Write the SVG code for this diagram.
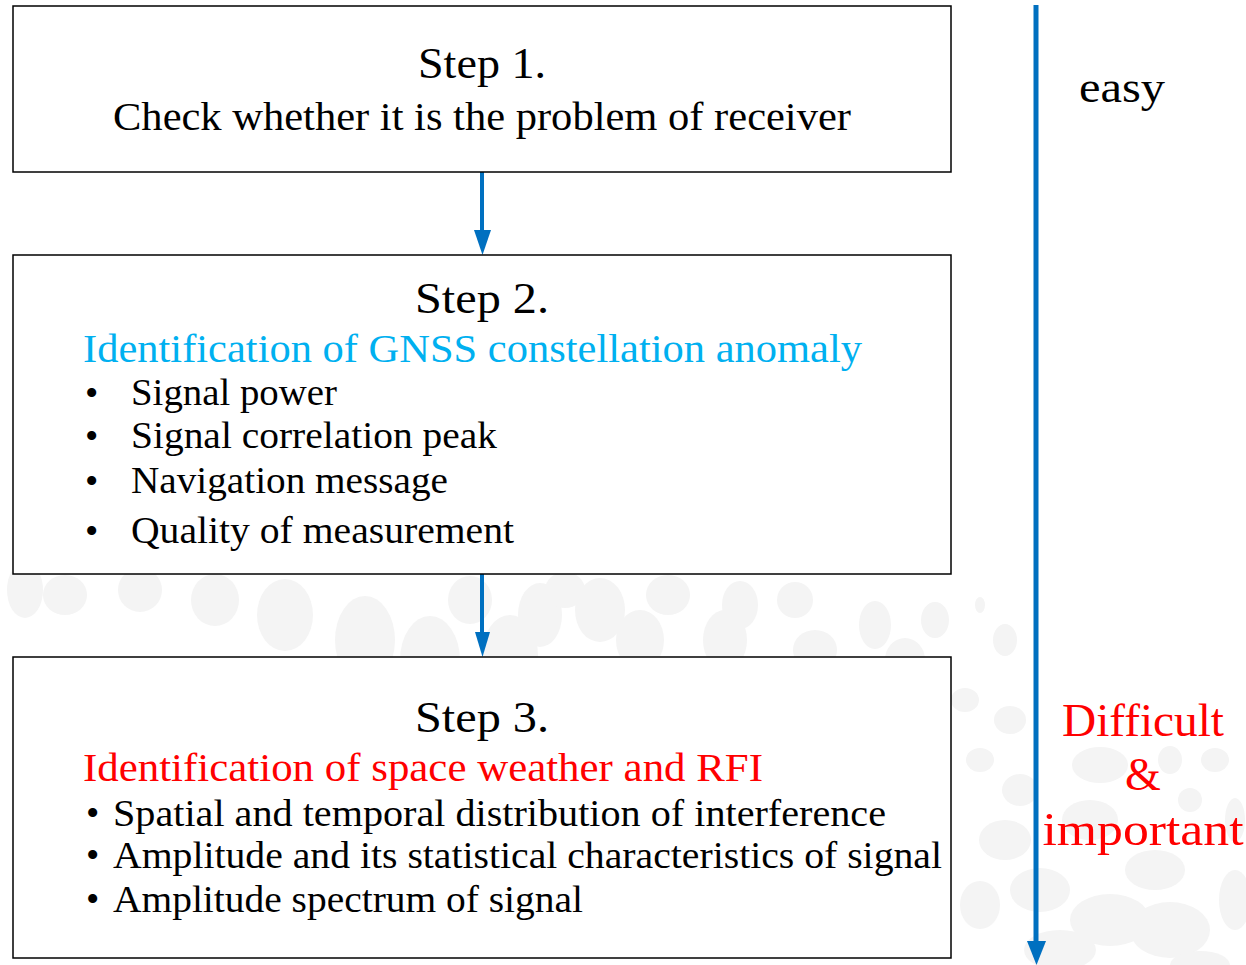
<svg xmlns="http://www.w3.org/2000/svg" width="1246" height="965" viewBox="0 0 1246 965">
<defs>
<style>
.box{fill:#fff;stroke:#000;stroke-width:1.5}
.t{font-family:"Liberation Serif","Times New Roman",serif;fill:#000}
.step{font-size:45px;text-anchor:middle}
.body{font-size:41px}
.item{font-size:38px}
.dot{fill:#f4f4f4}
.conn{stroke:#0070c0;fill:none}
.head{fill:#0070c0}
</style>
</defs>
<rect width="1246" height="965" fill="#fff"/>
<g id="background">
<ellipse class="dot" cx="25" cy="590" rx="18" ry="28"/>
<ellipse class="dot" cx="65" cy="595" rx="22" ry="20"/>
<ellipse class="dot" cx="140" cy="590" rx="22" ry="22"/>
<ellipse class="dot" cx="215" cy="600" rx="24" ry="26"/>
<ellipse class="dot" cx="285" cy="615" rx="28" ry="36"/>
<ellipse class="dot" cx="365" cy="640" rx="30" ry="44"/>
<ellipse class="dot" cx="430" cy="660" rx="30" ry="44"/>
<ellipse class="dot" cx="470" cy="600" rx="22" ry="24"/>
<ellipse class="dot" cx="510" cy="655" rx="28" ry="40"/>
<ellipse class="dot" cx="540" cy="615" rx="22" ry="32"/>
<ellipse class="dot" cx="565" cy="590" rx="20" ry="18"/>
<ellipse class="dot" cx="600" cy="610" rx="25" ry="32"/>
<ellipse class="dot" cx="640" cy="640" rx="24" ry="30"/>
<ellipse class="dot" cx="668" cy="595" rx="22" ry="20"/>
<ellipse class="dot" cx="725" cy="640" rx="22" ry="30"/>
<ellipse class="dot" cx="740" cy="605" rx="18" ry="24"/>
<ellipse class="dot" cx="795" cy="600" rx="18" ry="18"/>
<ellipse class="dot" cx="815" cy="650" rx="22" ry="20"/>
<ellipse class="dot" cx="875" cy="625" rx="16" ry="24"/>
<ellipse class="dot" cx="905" cy="660" rx="20" ry="22"/>
<ellipse class="dot" cx="935" cy="620" rx="14" ry="18"/>
<ellipse class="dot" cx="980" cy="605" rx="5" ry="8"/>
<ellipse class="dot" cx="1005" cy="640" rx="12" ry="16"/>
<ellipse class="dot" cx="965" cy="700" rx="14" ry="12"/>
<ellipse class="dot" cx="1010" cy="720" rx="16" ry="14"/>
<ellipse class="dot" cx="980" cy="760" rx="14" ry="12"/>
<ellipse class="dot" cx="1020" cy="790" rx="18" ry="16"/>
<ellipse class="dot" cx="1005" cy="840" rx="26" ry="20"/>
<ellipse class="dot" cx="1040" cy="890" rx="30" ry="22"/>
<ellipse class="dot" cx="980" cy="905" rx="20" ry="24"/>
<ellipse class="dot" cx="1100" cy="765" rx="28" ry="18"/>
<ellipse class="dot" cx="1170" cy="760" rx="12" ry="14"/>
<ellipse class="dot" cx="1215" cy="760" rx="14" ry="12"/>
<ellipse class="dot" cx="1190" cy="800" rx="12" ry="12"/>
<ellipse class="dot" cx="1090" cy="820" rx="28" ry="20"/>
<ellipse class="dot" cx="1155" cy="870" rx="30" ry="20"/>
<ellipse class="dot" cx="1110" cy="920" rx="40" ry="26"/>
<ellipse class="dot" cx="1170" cy="930" rx="40" ry="28"/>
<ellipse class="dot" cx="1235" cy="900" rx="16" ry="30"/>
<ellipse class="dot" cx="1060" cy="950" rx="36" ry="20"/>
<ellipse class="dot" cx="1200" cy="965" rx="30" ry="14"/>
<ellipse class="dot" cx="1235" cy="820" rx="10" ry="22"/>
</g>
<g id="connectors">
<line class="conn" x1="482" y1="172" x2="482" y2="232" stroke-width="4"/>
<polygon class="head" points="474,230 491,230 482.5,255"/>
<line class="conn" x1="482" y1="574" x2="482" y2="634" stroke-width="4"/>
<polygon class="head" points="475,632 490,632 482.5,657"/>
<line class="conn" x1="1036" y1="5" x2="1036" y2="945" stroke-width="5"/>
<polygon class="head" points="1027,941 1046,941 1036.5,965"/>
</g>
<g id="step1">
<rect class="box" x="13" y="6" width="938" height="166"/>
<text class="t step" x="482" y="78" textLength="128" lengthAdjust="spacingAndGlyphs">Step 1.</text>
<text class="t body" x="113" y="130" textLength="738" lengthAdjust="spacingAndGlyphs">Check whether it is the problem of receiver</text>
</g>
<g id="step2">
<rect class="box" x="13" y="255" width="938" height="319"/>
<text class="t step" x="482" y="313" textLength="134" lengthAdjust="spacingAndGlyphs">Step 2.</text>
<text class="t body" x="83" y="362" style="fill:#00b0f0" textLength="779" lengthAdjust="spacingAndGlyphs">Identification of GNSS constellation anomaly</text>
<g class="t item">
<text x="85" y="406">•</text><text x="131" y="405" textLength="206" lengthAdjust="spacingAndGlyphs">Signal power</text>
<text x="85" y="449">•</text><text x="131" y="448" textLength="366" lengthAdjust="spacingAndGlyphs">Signal correlation peak</text>
<text x="85" y="494">•</text><text x="131" y="493" textLength="317" lengthAdjust="spacingAndGlyphs">Navigation message</text>
<text x="85" y="544">•</text><text x="131" y="543" textLength="383" lengthAdjust="spacingAndGlyphs">Quality of measurement</text>
</g>
</g>
<g id="step3">
<rect class="box" x="13" y="657" width="938" height="301"/>
<text class="t step" x="482" y="732" textLength="134" lengthAdjust="spacingAndGlyphs">Step 3.</text>
<text class="t body" x="83" y="781" style="fill:#ff0000" textLength="680" lengthAdjust="spacingAndGlyphs">Identification of space weather and RFI</text>
<g class="t item">
<text x="86" y="826">•</text><text x="113" y="826" textLength="773" lengthAdjust="spacingAndGlyphs">Spatial and temporal distribution of interference</text>
<text x="86" y="868">•</text><text x="113" y="868" textLength="829" lengthAdjust="spacingAndGlyphs">Amplitude and its statistical characteristics of signal</text>
<text x="86" y="912">•</text><text x="113" y="912" textLength="470" lengthAdjust="spacingAndGlyphs">Amplitude spectrum of signal</text>
</g>
</g>
<g id="labels">
<text class="t" x="1122" y="102" font-size="44" text-anchor="middle" textLength="86" lengthAdjust="spacingAndGlyphs">easy</text>
<g class="t" font-size="46" text-anchor="middle" style="fill:#ff0000">
<text x="1143" y="736" textLength="162" lengthAdjust="spacingAndGlyphs">Difficult</text>
<text x="1143" y="790">&amp;</text>
<text x="1143" y="845" textLength="201" lengthAdjust="spacingAndGlyphs">important</text>
</g>
</g>
</svg>
